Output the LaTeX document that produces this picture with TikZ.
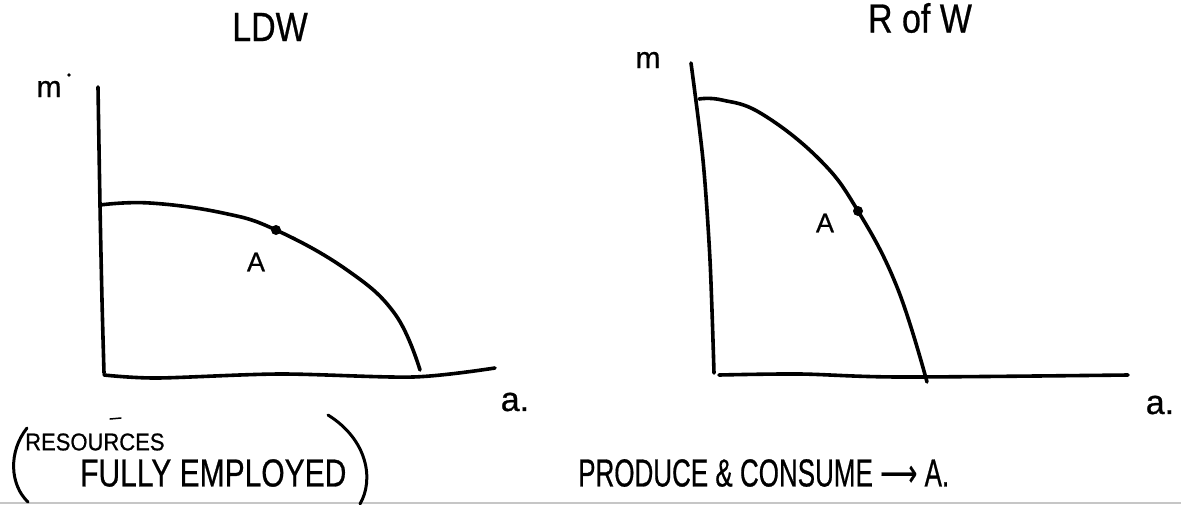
\documentclass[tikz,border=0pt]{standalone}
\usepackage{fontspec}
\setmainfont{Liberation Sans}[FakeBold=0.7]
\newfontfamily\symfont{DejaVu Sans}[FakeBold=0.7]
\usepackage{graphicx}
\begin{document}
\begin{tikzpicture}[x=1pt,y=-1pt,
  ink/.style={line width=3.6pt, line cap=round, line join=round},
  ppf/.style={ink},
  lbl/.style={inner sep=0pt, text=black},
  ptdot/.style={circle, fill=black, inner sep=0pt, minimum size=10pt},
  fsA/.style={font=\fontsize{34}{40}\selectfont},
  fsB/.style={font=\fontsize{30}{36}\selectfont},
  fsC/.style={font=\fontsize{27}{32}\selectfont},
]
\fill[white] (0,0) rectangle (1181,504);
\useasboundingbox (0,0) rectangle (1181,504);
\draw[gray!45, line width=1.5pt] (0,503) -- (1181,503);

% ---------- left graph (LDW) ----------
\node[lbl, fsA] (t1) at (270,27) {\scalebox{1}[1.2]{LDW}};
\node[lbl, fsB] (m1) at (49,89) {m};
\fill (69,75) circle (1.8);
\node[lbl, fsA] (a1) at (515,402) {a.};
\coordinate (pA) at (276,230);
\draw[ink] plot[smooth, tension=0.5] coordinates {(98,87) (100,205) (102,300) (104,373)};
\draw[ink] plot[smooth, tension=0.5] coordinates {(104,375) (157,378) (280,374) (413,377) (495,368)};
\draw[ppf] plot[smooth, tension=0.7] coordinates {(100,205) (150,203) (223,213) (pA) (347,270) (395,314) (420,370)};
\node[ptdot] (dA) at (pA) {};
\node[lbl, fsC] (A1) at (256,262) {A};

% ---------- right graph (R of W) ----------
\node[lbl, fsA] (t2) at (920,18) {\scalebox{1}[1.2]{R of W}};
\node[lbl, fsB] (m2) at (648,60) {m};
\node[lbl, fsA] (a2) at (1160,405) {a.};
\coordinate (pB) at (858,211);
\draw[ink] plot[smooth, tension=0.5] coordinates {(691,63) (703,160) (710,260) (714,373)};
\draw[ink] plot[smooth, tension=0.5] coordinates {(719,375) (800,374) (900,377) (1128,375)};
\draw[ppf] plot[smooth, tension=0.7] coordinates {(699,99) (722,100) (762,114) (820,160) (pB) (897,287) (927,382)};
\node[ptdot] (dB) at (pB) {};
\node[lbl, fsC] (A2) at (825,223) {A};

% ---------- bottom notes ----------
\coordinate (lp1) at (27,428);
\coordinate (lp2) at (28,502);
\draw[ink, line width=3pt] (lp1) .. controls (8,452) and (10,485) .. (lp2);
\coordinate (rp1) at (328,415);
\coordinate (rp2) at (360,504);
\draw[ink, line width=3pt] (rp1) .. controls (368,440) and (374,480) .. (rp2);
\node[lbl, font=\fontsize{22}{26}\selectfont, anchor=west] (res) at (25,442) {\scalebox{1}[1.1]{RESOURCES}};
\draw[ink, line width=1.5pt] (110,419) -- (121,418);
\node[lbl, fsB, anchor=west] (fe) at (80,473) {\scalebox{1}[1.3]{FULLY EMPLOYED}};
\node[lbl, font=\fontsize{26}{32}\selectfont, anchor=west] (pc) at (578,473)
  {\scalebox{1}[1.5]{PRODUCE \& CONSUME {\symfont ⟶} A.}};
\end{tikzpicture}
\end{document}
